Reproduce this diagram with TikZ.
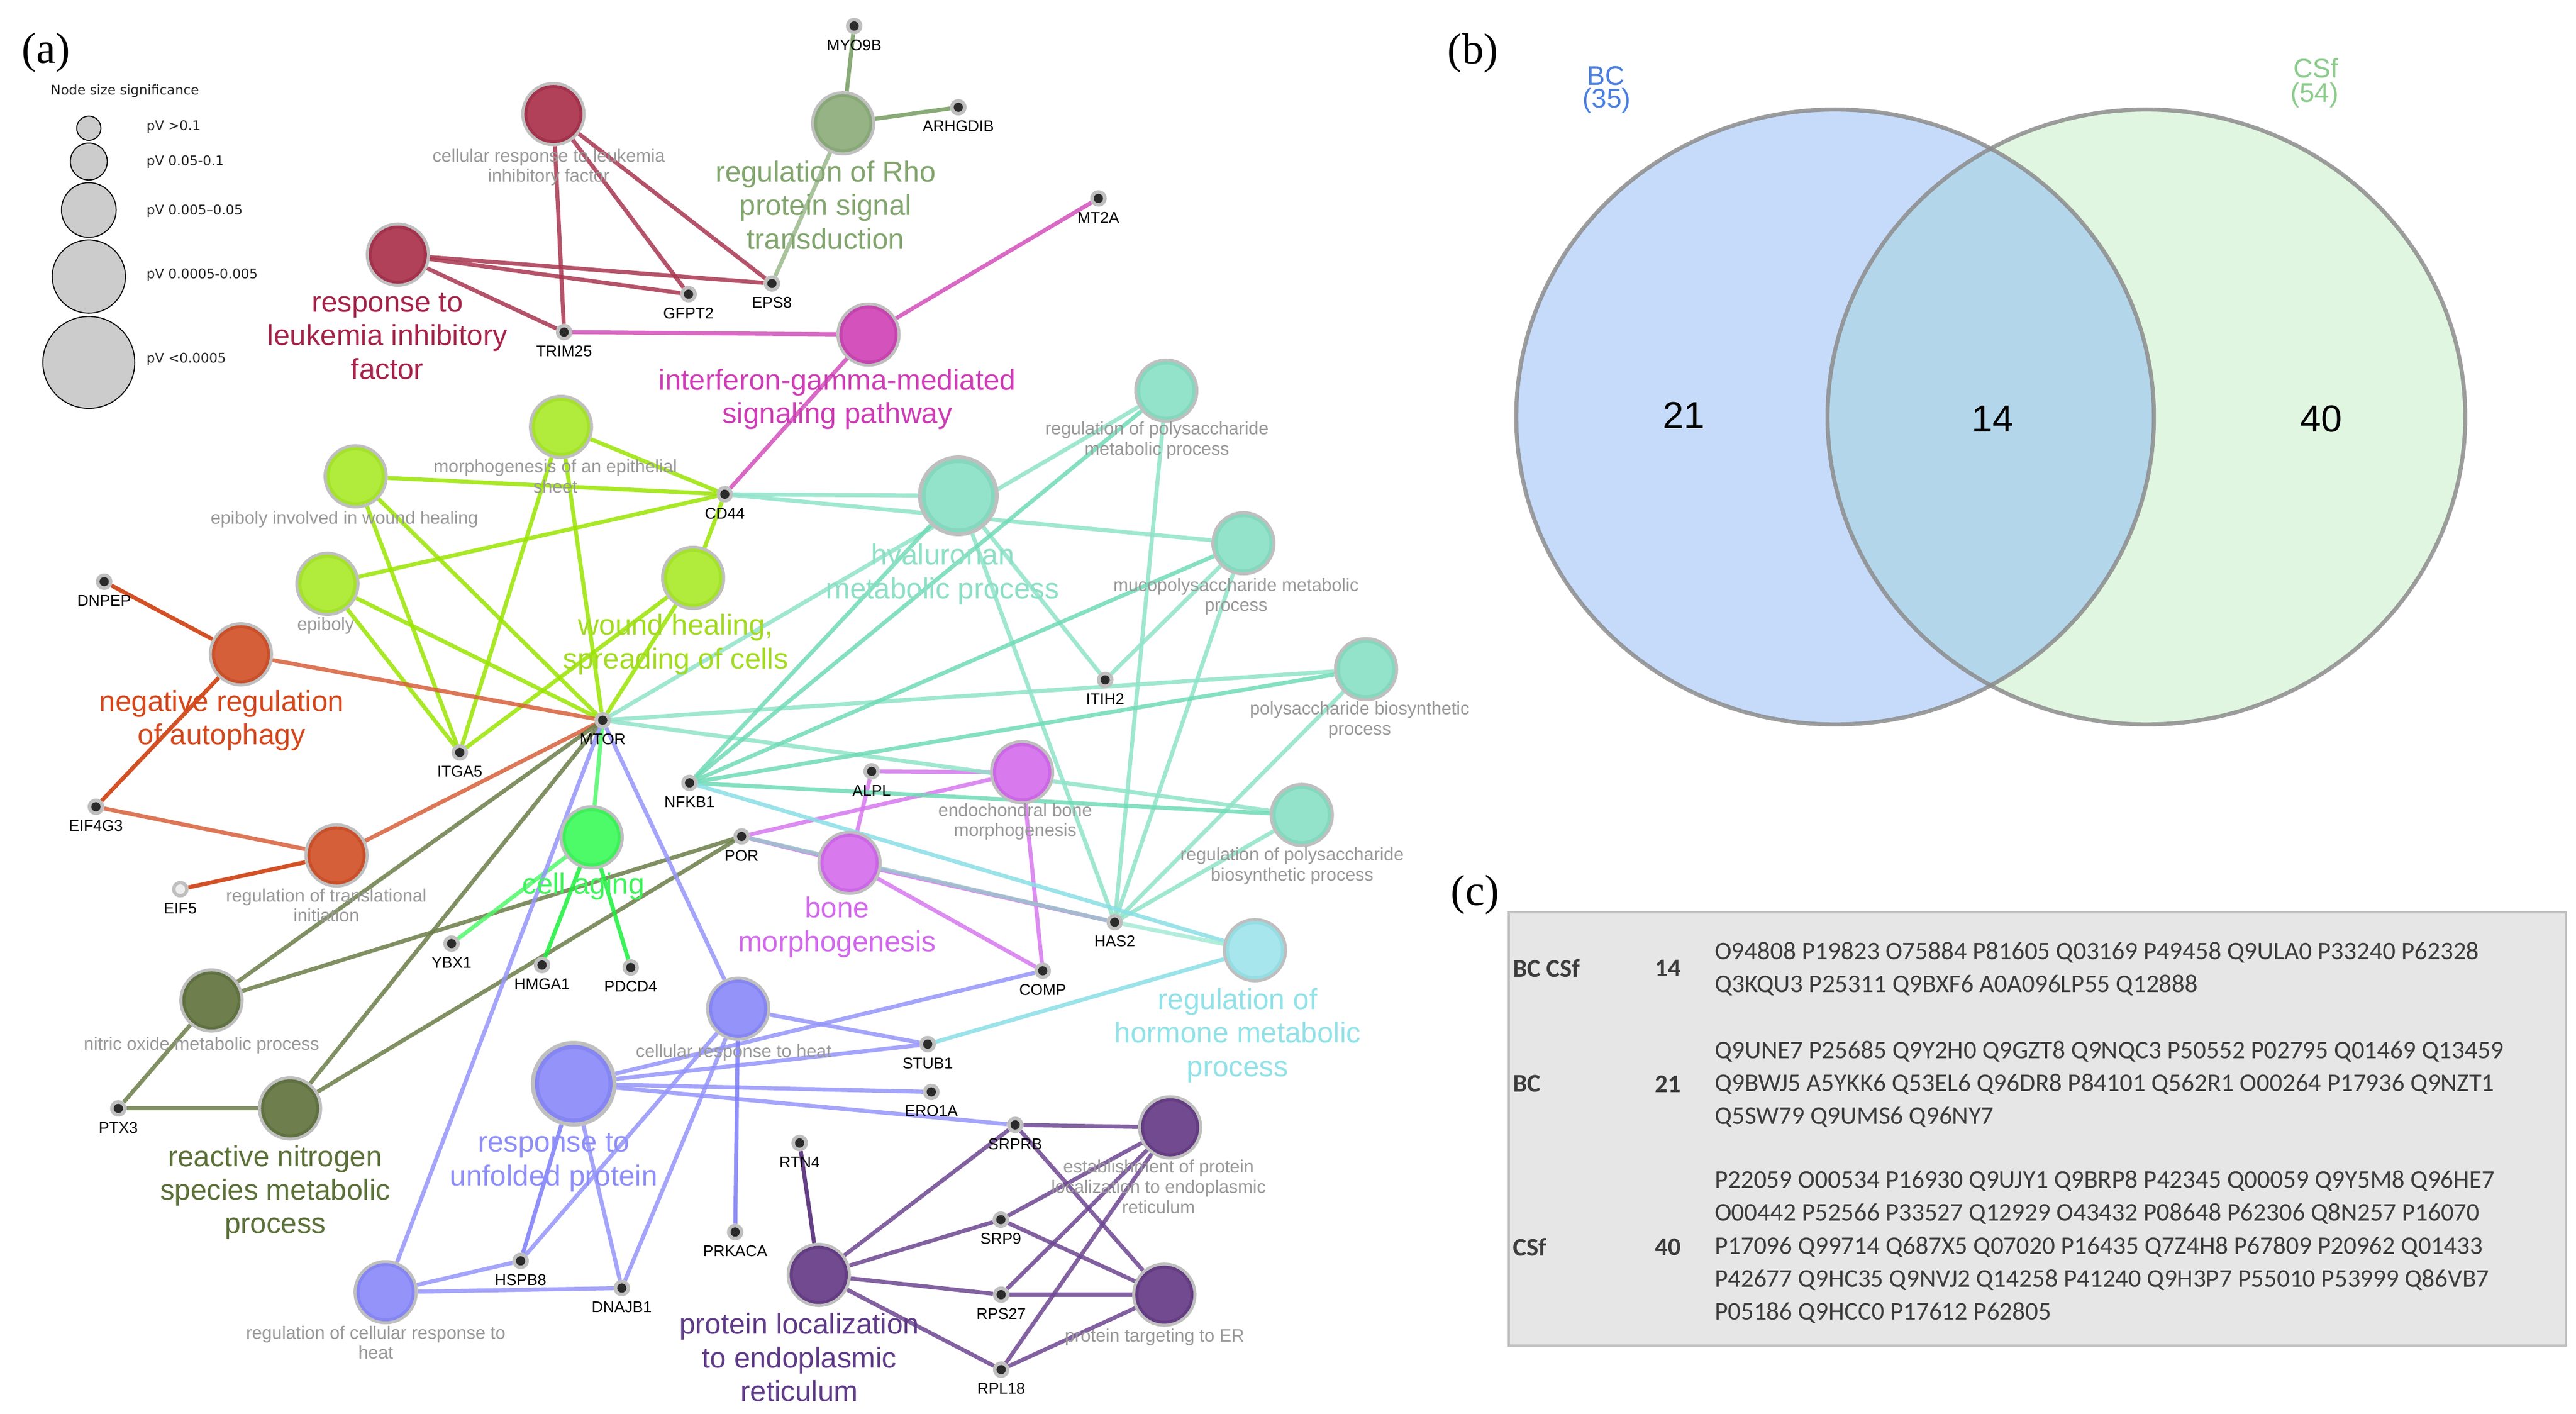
\documentclass[tikz,border=0pt]{standalone}
\usepackage{fontspec}
\setmainfont{Liberation Sans}
\newfontfamily\serifpanel{Liberation Serif}
\newfontfamily\tabfont{Carlito}
\newfontfamily\legfont{DejaVu Sans}
\usetikzlibrary{backgrounds}
\definecolor{ringgray}{HTML}{BFBFBF}
\definecolor{dotblack}{HTML}{2B2B2B}
\definecolor{emptydot}{HTML}{EEEEEE}
\definecolor{labgray}{HTML}{999999}
\definecolor{redfill}{HTML}{B04159}\definecolor{redring}{HTML}{A3334C}\definecolor{redtext}{HTML}{A5244A}\definecolor{redE}{HTML}{A8364F}
\definecolor{rhofill}{HTML}{95B385}\definecolor{rhoring}{HTML}{88A878}\definecolor{rhotext}{HTML}{82A56E}\definecolor{rhoE}{HTML}{759C60}\definecolor{rhoEb}{HTML}{9BB98B}
\definecolor{magfill}{HTML}{D452BC}\definecolor{magring}{HTML}{C545AE}\definecolor{magtext}{HTML}{CC3DB4}\definecolor{magE}{HTML}{D24FBA}
\definecolor{limefill}{HTML}{B1EB3B}\definecolor{limering}{HTML}{A5E22B}\definecolor{limetext}{HTML}{A2DB1F}\definecolor{limeE}{HTML}{9BE402}
\definecolor{orfill}{HTML}{D55F38}\definecolor{orring}{HTML}{C9502A}\definecolor{ortext}{HTML}{D4471C}\definecolor{orE}{HTML}{D6603A}\definecolor{orEd}{HTML}{CC3300}
\definecolor{tealfill}{HTML}{93E3CB}\definecolor{tealring}{HTML}{85D8BE}\definecolor{tealtext}{HTML}{8DDFC6}\definecolor{tealE}{HTML}{8FE3C8}\definecolor{tealEm}{HTML}{6FDBB6}
\definecolor{grfill}{HTML}{4DFA68}\definecolor{grring}{HTML}{3EF05A}\definecolor{grtext}{HTML}{40F55C}\definecolor{grE}{HTML}{1BF03C}\definecolor{grEl}{HTML}{50F86A}
\definecolor{vifill}{HTML}{D879EE}\definecolor{viring}{HTML}{CC67E5}\definecolor{vitext}{HTML}{D268EC}\definecolor{viE}{HTML}{D678EE}
\definecolor{olfill}{HTML}{6E7F4D}\definecolor{olring}{HTML}{607242}\definecolor{oltext}{HTML}{5C7038}\definecolor{olE}{HTML}{6B7D48}
\definecolor{pefill}{HTML}{9393FA}\definecolor{pering}{HTML}{8686F2}\definecolor{petext}{HTML}{8E8EF8}\definecolor{peE}{HTML}{9595FA}\definecolor{peEd}{HTML}{7C7CF8}
\definecolor{cyfill}{HTML}{A6E6EC}\definecolor{cyring}{HTML}{95DDE3}\definecolor{cytext}{HTML}{91E2E8}\definecolor{cyE}{HTML}{89DFE6}
\definecolor{pufill}{HTML}{714A8F}\definecolor{puring}{HTML}{643D83}\definecolor{putext}{HTML}{5F3B87}\definecolor{puE}{HTML}{6D4690}\definecolor{puEd}{HTML}{4B1E70}
\definecolor{porhas}{HTML}{9CC3CB}\definecolor{hashorm}{HTML}{A5EBD5}
\definecolor{vennblue}{HTML}{C6DBF9}\definecolor{venngreen}{HTML}{E0F6E0}\definecolor{venninter}{HTML}{B4D6EA}\definecolor{venndraw}{HTML}{8C8C8C}
\definecolor{bctext}{HTML}{4A7FE0}\definecolor{csftext}{HTML}{8CCB8C}
\definecolor{tablefill}{HTML}{E6E6E6}\definecolor{tableborder}{HTML}{C0C0C0}\definecolor{tabletext}{HTML}{3C3C3C}
\newcommand\gn[4]{\node[gene] (#1) at (#2,#3) {};\node[genelab] (#1l) at ([yshift=-0.232cm]#1.center) {#4};}
\begin{document}
\begin{tikzpicture}[x=0.02cm,y=-0.02cm,
  every node/.style={inner sep=0pt,outer sep=0pt},
  term/.style 2 args={circle,minimum size=0.78cm,fill=ringgray,path picture={\fill[#2] (path picture bounding box.center) circle[radius=0.353cm];\fill[#1] (path picture bounding box.center) circle[radius=0.316cm];}},
  bigterm/.style n args={3}{circle,minimum size=#3,fill=ringgray,path picture={\fill[#2] (path picture bounding box.center) circle[radius=0.4525*#3];\fill[#1] (path picture bounding box.center) circle[radius=0.405*#3];}},
  gene/.style={circle,minimum size=0.2cm,fill=ringgray,path picture={\fill[dotblack] (path picture bounding box.center) circle[radius=0.056cm];}},
  geneempty/.style={circle,minimum size=0.2cm,fill=ringgray,path picture={\fill[emptydot] (path picture bounding box.center) circle[radius=0.058cm];}},
  genelab/.style={font=\fontsize{5.4}{6}\selectfont,text=black},
  biglab/.style={font=\fontsize{10}{11.6}\selectfont,align=center},
  graylab/.style={font=\fontsize{6.2}{6.95}\selectfont,text=labgray,align=center},
  edge/.style={line width=1.4pt,opacity=0.85},
  legc/.style={circle,fill=black!20,draw=black,line width=0.35pt},
  leglab/.style={font=\legfont\fontsize{4.6}{5}\selectfont,text=black!85,anchor=west},
  panel/.style={font=\serifpanel\fontsize{15}{16}\selectfont},
  tabtxt/.style={font=\tabfont\fontsize{8.8}{11.38}\selectfont,text=tabletext,align=left,anchor=west},
  tabhead/.style={font=\tabfont\bfseries\fontsize{8.8}{11.38}\selectfont,text=tabletext}
]
\useasboundingbox (0,0) rectangle (1563.1,857.6);
% ---------- panel labels ----------
\node[panel] (pa) at (28,32) {(a)};
\node[panel] (pb) at (893.8,32.2) {(b)};
\node[panel] (pc) at (895,543) {(c)};
% ---------- legend ----------
\node[font=\legfont\fontsize{4.6}{5}\selectfont,text=black!85] (legtitle) at (75.8,55.4) {Node size significance};
\node[legc,minimum size=0.294cm] (leg1) at (53.9,77.8) {};
\node[legc,minimum size=0.448cm] (leg2) at (53.9,98) {};
\node[legc,minimum size=0.664cm] (leg3) at (53.9,127.4) {};
\node[legc,minimum size=0.888cm] (leg4) at (53.9,167.8) {};
\node[legc,minimum size=1.116cm] (leg5) at (53.9,219.9) {};
\node[leglab] (legl1) at (88.9,76.8) {pV >0.1};
\node[leglab] (legl2) at (88.9,98.2) {pV 0.05-0.1};
\node[leglab] (legl3) at (88.9,128) {pV 0.005–0.05};
\node[leglab] (legl4) at (88.9,167) {pV 0.0005-0.005};
\node[leglab] (legl5) at (88.9,218) {pV <0.0005};
% ---------- term nodes ----------
\node[term={redfill}{redring}] (cellLIF) at (335.8,69.2) {};
\node[term={redfill}{redring}] (respLIF) at (241.4,154.5) {};
\node[term={rhofill}{rhoring}] (rho) at (511.6,74.8) {};
\node[term={magfill}{magring}] (ifng) at (527,203) {};
\node[term={limefill}{limering}] (morphepi) at (340.4,259) {};
\node[term={limefill}{limering}] (epiwound) at (215.8,289) {};
\node[term={limefill}{limering}] (epiboly) at (198.7,354.2) {};
\node[term={limefill}{limering}] (wound) at (420.6,350.6) {};
\node[term={orfill}{orring}] (negaut) at (146.2,397) {};
\node[term={orfill}{orring}] (transl) at (204.2,519) {};
\node[bigterm={tealfill}{tealring}{0.98cm}] (hyal) at (581.5,300.8) {};
\node[term={tealfill}{tealring}] (regpolymet) at (707.7,237) {};
\node[term={tealfill}{tealring}] (mucopoly) at (754.5,329.6) {};
\node[term={tealfill}{tealring}] (polybio) at (828.9,406) {};
\node[term={tealfill}{tealring}] (regpolybio) at (789.9,494.5) {};
\node[term={vifill}{viring}] (endo) at (620.2,468.5) {};
\node[term={vifill}{viring}] (bone) at (515.5,523.5) {};
\node[term={grfill}{grring}] (cellaging) at (359,508) {};
\node[term={olfill}{olring}] (nitric) at (128.3,607) {};
\node[term={olfill}{olring}] (reactive) at (176,672.5) {};
\node[term={pefill}{pering}] (heat) at (447.9,612) {};
\node[bigterm={pefill}{pering}{1.04cm}] (unfolded) at (348.1,657.5) {};
\node[term={pefill}{pering}] (regheat) at (234,784) {};
\node[term={cyfill}{cyring}] (hormone) at (761.5,576.5) {};
\node[term={pufill}{puring}] (protloc) at (496.8,773.5) {};
\node[term={pufill}{puring}] (establish) at (710,684) {};
\node[term={pufill}{puring}] (targetER) at (706.5,785.5) {};
% ---------- gene nodes ----------
\gn{MYO9B}{518.3}{15.8}{MYO9B}
\gn{ARHGDIB}{581.5}{65.1}{ARHGDIB}
\gn{MT2A}{666.5}{120.4}{MT2A}
\gn{EPS8}{468.4}{172}{EPS8}
\gn{GFPT2}{417.8}{178.5}{GFPT2}
\gn{TRIM25}{342.3}{201.5}{TRIM25}
\gn{CD44}{439.8}{299.9}{CD44}
\gn{DNPEP}{63.2}{352.9}{DNPEP}
\gn{MTOR}{365.7}{437}{MTOR}
\gn{ITGA5}{279}{456.5}{ITGA5}
\gn{ITIH2}{670.6}{412.5}{ITIH2}
\gn{NFKB1}{418.4}{475}{NFKB1}
\gn{ALPL}{528.9}{468}{ALPL}
\gn{EIFfourGthree}{58.2}{489.5}{EIF4G3}
\gn{POR}{450}{507.5}{POR}
\node[geneempty] (EIFfive) at (109.4,539.5) {};
\node[genelab] (EIFfivel) at ([yshift=-0.232cm]EIFfive.center) {EIF5};
\gn{HAS2}{676.4}{559.5}{HAS2}
\gn{YBX1}{274}{572.5}{YBX1}
\gn{HMGA1}{328.9}{585.5}{HMGA1}
\gn{PDCD4}{382.7}{587}{PDCD4}
\gn{COMP}{632.7}{589}{COMP}
\gn{STUB1}{562.9}{633.5}{STUB1}
\gn{ERO1A}{565.1}{662.5}{ERO1A}
\gn{PTX3}{71.8}{672.5}{PTX3}
\gn{SRPRB}{616}{682.5}{SRPRB}
\gn{RTN4}{485.2}{693.5}{RTN4}
\gn{SRP9}{607.3}{740}{SRP9}
\gn{PRKACA}{446.1}{747.5}{PRKACA}
\gn{HSPB8}{315.9}{765}{HSPB8}
\gn{DNAJB1}{377.3}{781.5}{DNAJB1}
\gn{RPS27}{607.5}{785.5}{RPS27}
\gn{RPL18}{607.5}{831}{RPL18}
% ---------- edges ----------
\begin{scope}[on background layer]
\fill[white] (0,0) rectangle (1563.1,857.6);
\foreach \a/\b in {respLIF/EPS8,respLIF/GFPT2,respLIF/TRIM25,cellLIF/TRIM25,cellLIF/GFPT2,cellLIF/EPS8}
  \draw[edge,redE] (\a) -- (\b);
\draw[edge,rhoE] (rho) -- (MYO9B);
\draw[edge,rhoE] (rho) -- (ARHGDIB);
\draw[edge,rhoEb] (rho) -- (EPS8);
\foreach \a/\b in {TRIM25/ifng,ifng/MT2A,ifng/CD44}
  \draw[edge,magE] (\a) -- (\b);
\foreach \a/\b in {morphepi/CD44,morphepi/ITGA5,morphepi/MTOR,epiwound/CD44,epiwound/ITGA5,epiwound/MTOR,epiboly/CD44,epiboly/ITGA5,epiboly/MTOR,wound/CD44,wound/MTOR,wound/ITGA5}
  \draw[edge,limeE] (\a) -- (\b);
\foreach \a/\b in {negaut/DNPEP,negaut/EIFfourGthree,transl/EIFfive}
  \draw[edge,orEd] (\a) -- (\b);
\foreach \a/\b in {negaut/MTOR,transl/EIFfourGthree,transl/MTOR}
  \draw[edge,orE] (\a) -- (\b);
\foreach \a/\b in {nitric/MTOR,nitric/POR,nitric/PTX3,reactive/PTX3,reactive/MTOR,reactive/POR}
  \draw[edge,olE] (\a) -- (\b);
\draw[edge,grEl] (cellaging) -- (MTOR);
\draw[edge,grEl] (cellaging) -- (YBX1);
\draw[edge,grE] (cellaging) -- (HMGA1);
\draw[edge,grE] (cellaging) -- (PDCD4);
\foreach \a/\b in {heat/MTOR,heat/STUB1,heat/HSPB8,heat/DNAJB1,unfolded/STUB1,unfolded/COMP,unfolded/ERO1A,unfolded/SRPRB,unfolded/DNAJB1,regheat/MTOR,regheat/HSPB8,regheat/DNAJB1}
  \draw[edge,peE] (\a) -- (\b);
\draw[edge,peEd] (heat) -- (PRKACA);
\draw[edge,peEd] (unfolded) -- (HSPB8);
\foreach \a/\b in {bone/POR,bone/ALPL,bone/COMP,bone/HAS2,endo/POR,endo/ALPL,endo/COMP}
  \draw[edge,viE] (\a) -- (\b);
\foreach \a/\b in {CD44/hyal,CD44/mucopoly,MTOR/regpolymet,MTOR/polybio,MTOR/regpolybio,ITIH2/hyal,ITIH2/mucopoly,HAS2/hyal,HAS2/regpolymet,HAS2/mucopoly,HAS2/polybio,HAS2/regpolybio}
  \draw[edge,tealE] (\a) -- (\b);
\foreach \a/\b in {NFKB1/hyal,NFKB1/regpolymet,NFKB1/mucopoly,NFKB1/polybio,NFKB1/regpolybio}
  \draw[edge,tealEm] (\a) -- (\b);
\draw[edge,cyE] (NFKB1) -- (hormone);
\draw[edge,cyE] (STUB1) -- (hormone);
\draw[edge,hashorm] (HAS2) -- (hormone);
\draw[edge,porhas] (POR) -- (HAS2);
\draw[edge,puEd] (protloc) -- (RTN4);
\foreach \a/\b in {protloc/SRPRB,protloc/SRP9,protloc/RPS27,protloc/RPL18,establish/SRPRB,establish/SRP9,establish/RPS27,establish/RPL18,targetER/SRPRB,targetER/SRP9,targetER/RPS27,targetER/RPL18}
  \draw[edge,puE] (\a) -- (\b);
\end{scope}
% ---------- term labels ----------
\node[graylab] (cellLIFl) at (333,101.5) {cellular response to leukemia\\inhibitory factor};
\node[biglab,text=redtext] (respLIFl) at (235,204) {response to\\leukemia inhibitory\\factor};
\node[biglab,text=rhotext] (rhol) at (501,124.4) {regulation of Rho\\protein signal\\transduction};
\node[biglab,text=magtext] (ifngl) at (508.1,242.3) {interferon-gamma-mediated\\signaling pathway};
\node[graylab] (morphepil) at (337,289) {morphogenesis of an epithelial\\sheet};
\node[graylab] (epiwoundl) at (209,315.1) {epiboly involved in wound healing};
\node[graylab] (epibolyl) at (197.6,379.5) {epiboly};
\node[biglab,text=limetext] (woundl) at (410,391) {wound healing,\\spreading of cells};
\node[biglab,text=ortext] (negautl) at (134.5,437.2) {negative regulation\\of autophagy};
\node[graylab] (transll) at (198,549.3) {regulation of translational\\initiation};
\node[biglab,text=tealtext] (hyall) at (572,348.4) {hyaluronan\\metabolic process};
\node[graylab] (mucopolyl) at (750,362) {mucopolysaccharide metabolic\\process};
\node[graylab] (regpolymetl) at (702,267) {regulation of polysaccharide\\metabolic process};
\node[graylab] (polybiol) at (825,437) {polysaccharide biosynthetic\\process};
\node[graylab] (regpolybiol) at (784,525.5) {regulation of polysaccharide\\biosynthetic process};
\node[graylab] (endol) at (616,498.5) {endochondral bone\\morphogenesis};
\node[biglab,text=vitext] (bonel) at (508,562.5) {bone\\morphogenesis};
\node[biglab,text=grtext] (cellagingl) at (354,537.8) {cell aging};
\node[graylab] (nitricl) at (122.3,634.2) {nitric oxide metabolic process};
\node[biglab,text=oltext] (reactivel) at (167,723.5) {reactive nitrogen\\species metabolic\\process};
\node[graylab] (heatl) at (445.2,638.8) {cellular response to heat};
\node[biglab,text=petext] (unfoldedl) at (336,705.3) {response to\\unfolded protein};
\node[graylab] (regheatl) at (228,814.5) {regulation of cellular response to\\heat};
\node[biglab,text=cytext] (hormonel) at (751,628.2) {regulation of\\hormone metabolic\\process};
\node[biglab,text=putext] (protlocl) at (485,823.5) {protein localization\\to endoplasmic\\reticulum};
\node[graylab] (establishl) at (703,720) {establishment of protein\\localization to endoplasmic\\reticulum};
\node[graylab] (targetERl) at (700.6,811.2) {protein targeting to ER};
% ---------- Venn (b) ----------
\fill[vennblue] (1113.5,253) ellipse[x radius=3.87cm,y radius=3.732cm];
\fill[venngreen] (1302.4,253) ellipse[x radius=3.87cm,y radius=3.732cm];
\begin{scope}
  \clip (1113.5,253) ellipse[x radius=3.87cm,y radius=3.732cm];
  \fill[venninter] (1302.4,253) ellipse[x radius=3.87cm,y radius=3.732cm];
\end{scope}
\draw[venndraw,line width=1.4pt,opacity=0.85] (1113.5,253) ellipse[x radius=3.87cm,y radius=3.732cm];
\draw[venndraw,line width=1.4pt,opacity=0.85] (1302.4,253) ellipse[x radius=3.87cm,y radius=3.732cm];
\node[font=\fontsize{9.3}{10}\selectfont,text=bctext] (bcname) at (974.5,46) {BC};
\node[font=\fontsize{9.3}{10}\selectfont,text=bctext] (bcnum) at (975,61.3) {(35)};
\node[font=\fontsize{9.3}{10}\selectfont,text=csftext] (csfname) at (1405.3,41.4) {CSf};
\node[font=\fontsize{9.3}{10}\selectfont,text=csftext] (csfnum) at (1404.4,57.6) {(54)};
\node[font=\fontsize{13}{14}\selectfont] (vbc) at (1021.6,252) {21};
\node[font=\fontsize{13}{14}\selectfont] (vboth) at (1209,254.3) {14};
\node[font=\fontsize{13}{14}\selectfont] (vcsf) at (1408.4,254.3) {40};
% ---------- Table (c) ----------
\filldraw[fill=tablefill,draw=tableborder,line width=0.8pt] (915.5,553.6) rectangle (1557,816.5);
\node[tabhead,anchor=west] (r1a) at (918,587.4) {BC CSf};
\node[tabhead] (r1b) at (1012,587.4) {14};
\node[tabtxt] (r1c) at (1040.5,587.9) {O94808 P19823 O75884 P81605 Q03169 P49458 Q9ULA0 P33240 P62328\\Q3KQU3 P25311 Q9BXF6 A0A096LP55 Q12888};
\node[tabhead,anchor=west] (r2a) at (918,657.6) {BC};
\node[tabhead] (r2b) at (1012,657.6) {21};
\node[tabtxt] (r2c) at (1040.5,657.8) {Q9UNE7 P25685 Q9Y2H0 Q9GZT8 Q9NQC3 P50552 P02795 Q01469 Q13459\\Q9BWJ5 A5YKK6 Q53EL6 Q96DR8 P84101 Q562R1 O00264 P17936 Q9NZT1\\Q5SW79 Q9UMS6 Q96NY7};
\node[tabhead,anchor=west] (r3a) at (918,756.6) {CSf};
\node[tabhead] (r3b) at (1012,756.6) {40};
\node[tabtxt] (r3c) at (1040.5,756.6) {P22059 O00534 P16930 Q9UJY1 Q9BRP8 P42345 Q00059 Q9Y5M8 Q96HE7\\O00442 P52566 P33527 Q12929 O43432 P08648 P62306 Q8N257 P16070\\P17096 Q99714 Q687X5 Q07020 P16435 Q7Z4H8 P67809 P20962 Q01433\\P42677 Q9HC35 Q9NVJ2 Q14258 P41240 Q9H3P7 P55010 P53999 Q86VB7\\P05186 Q9HCC0 P17612 P62805};
\end{tikzpicture}
\end{document}
